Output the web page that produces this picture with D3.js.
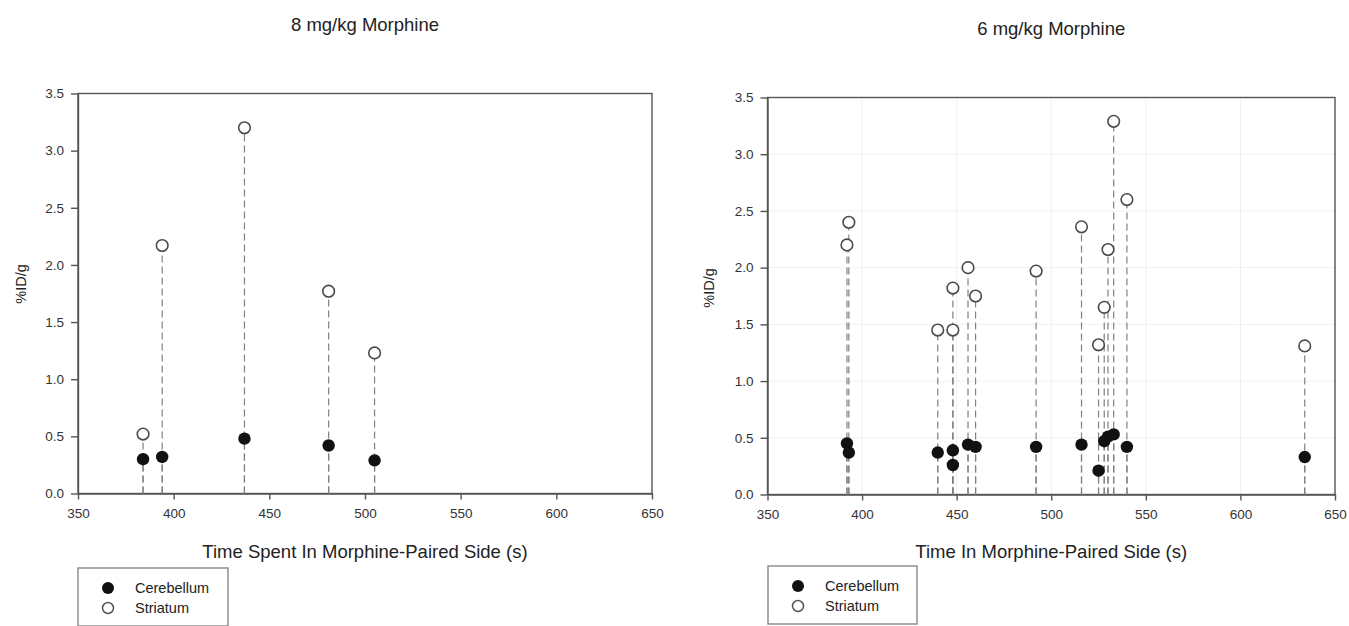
<!DOCTYPE html>
<html>
  <head>
    <meta charset="UTF-8">
    <title>Morphine %ID/g</title>
    <style>
      body { margin: 0; background: #fff; font-family: "Liberation Sans", Arial, sans-serif; }
      svg text { fill: #222; }
      .axis path, .axis line { stroke: #555; stroke-width: 1.4px; }
      .axis text { font-size: 13.5px; fill: #333; }
      .grid line { stroke: #f0f0f0; stroke-width: 1px; }
      .drop { stroke: #808080; stroke-width: 1.2px; stroke-dasharray: 7,4; }
    </style>
    <script src="https://d3js.org/d3.v7.min.js"></script>
  </head>
  <body>
    <div id="chart"></div>
    <script>
      // 8 mg/kg panel
      var leftTime = [384, 394, 437, 481, 505];
      var leftCerebellum = [0.30, 0.32, 0.48, 0.42, 0.29];
      var leftStriatum = [0.52, 2.17, 3.20, 1.77, 1.23];

      // 6 mg/kg panel
      var rightTime = [392, 393, 440, 448, 448, 456, 460, 492, 516, 525, 528, 530, 533, 540, 634];
      var rightCerebellum = [0.45, 0.37, 0.37, 0.39, 0.26, 0.44, 0.42, 0.42, 0.44, 0.21, 0.47, 0.51, 0.53, 0.42, 0.33];
      var rightStriatum = [2.20, 2.40, 1.45, 1.45, 1.82, 2.00, 1.75, 1.97, 2.36, 1.32, 1.65, 2.16, 3.29, 2.60, 1.31];

      var xTicks = [350, 400, 450, 500, 550, 600, 650];
      var yTicks = [0, 0.5, 1.0, 1.5, 2.0, 2.5, 3.0, 3.5];
      var seriesNames = ["Cerebellum", "Striatum"];

      var svg = d3.select("#chart").append("svg")
        .attr("width", 1349)
        .attr("height", 626);

      function panel(opt) {
        var x = d3.scaleLinear().domain([350, 650]).range([opt.left, opt.right]);
        var y = d3.scaleLinear().domain([0, 3.5]).range([opt.bottom, opt.top]);
        var g = svg.append("g");

        if (opt.grid) {
          var grid = g.append("g").attr("class", "grid");
          grid.selectAll(".gx").data(xTicks.slice(1, -1)).enter().append("line")
            .attr("x1", x).attr("x2", x).attr("y1", opt.top).attr("y2", opt.bottom);
          grid.selectAll(".gy").data(yTicks.slice(1, -1)).enter().append("line")
            .attr("y1", y).attr("y2", y).attr("x1", opt.left).attr("x2", opt.right);
        }

        // frame
        g.append("rect")
          .attr("x", opt.left).attr("y", opt.top)
          .attr("width", opt.right - opt.left).attr("height", opt.bottom - opt.top)
          .attr("fill", "none").attr("stroke", "#555").attr("stroke-width", 1.4);

        g.append("g").attr("class", "axis")
          .attr("transform", "translate(0," + opt.bottom + ")")
          .call(d3.axisBottom(x).tickValues(xTicks).tickSize(6).tickPadding(9).tickSizeOuter(0));
        g.append("g").attr("class", "axis")
          .attr("transform", "translate(" + opt.left + ",0)")
          .call(d3.axisLeft(y).tickValues(yTicks).tickFormat(d3.format(".1f")).tickSize(7).tickPadding(7).tickSizeOuter(0));

        var pts = opt.time.map(function(t, i) {
          return {t: t, c: opt.cer[i], s: opt.str[i]};
        });

        // drop lines for both series
        g.selectAll(".dropS").data(pts).enter().append("line")
          .attr("class", "drop")
          .attr("x1", function(d) { return x(d.t); })
          .attr("x2", function(d) { return x(d.t); })
          .attr("y1", y(0))
          .attr("y2", function(d) { return y(d.s); });
        g.selectAll(".dropC").data(pts).enter().append("line")
          .attr("class", "drop")
          .attr("x1", function(d) { return x(d.t); })
          .attr("x2", function(d) { return x(d.t); })
          .attr("y1", y(0))
          .attr("y2", function(d) { return y(d.c); });

        g.selectAll(".str").data(pts).enter().append("circle")
          .attr("cx", function(d) { return x(d.t); })
          .attr("cy", function(d) { return y(d.s); })
          .attr("r", 5.8)
          .attr("fill", "#fff").attr("stroke", "#4a4a4a").attr("stroke-width", 1.6);
        g.selectAll(".cer").data(pts).enter().append("circle")
          .attr("cx", function(d) { return x(d.t); })
          .attr("cy", function(d) { return y(d.c); })
          .attr("r", 6.2)
          .attr("fill", "#111");

        var cx = (opt.left + opt.right) / 2;
        g.append("text")
          .attr("x", cx).attr("y", opt.titleY)
          .attr("text-anchor", "middle")
          .style("font-size", "18.5px")
          .text(opt.title);
        g.append("text")
          .attr("x", cx).attr("y", 558)
          .attr("text-anchor", "middle")
          .style("font-size", "18.5px")
          .text(opt.xLabel);
        g.append("text")
          .attr("transform", "translate(" + opt.yLabelX + "," + opt.yLabelY + ") rotate(-90)")
          .attr("text-anchor", "middle")
          .style("font-size", "14.5px")
          .text("%ID/g");

        // legend
        var lg = g.append("g").attr("transform", "translate(" + opt.legX + "," + opt.legY + ")");
        lg.append("rect")
          .attr("width", opt.legW).attr("height", 58)
          .attr("fill", "#fff").attr("stroke", "#888").attr("stroke-width", 1.4);
        seriesNames.forEach(function(name, i) {
          lg.append("circle")
            .attr("cx", 30).attr("cy", 20 + i * 20)
            .attr("r", i === 0 ? 6 : 5.5)
            .attr("fill", i === 0 ? "#111" : "#fff")
            .attr("stroke", i === 0 ? "none" : "#555")
            .attr("stroke-width", 1.5);
          lg.append("text")
            .attr("x", 57).attr("y", 25 + i * 20)
            .style("font-size", "14.5px")
            .text(name);
        });
      }

      panel({
        left: 78, right: 652, top: 93.5, bottom: 493.5,
        time: leftTime, cer: leftCerebellum, str: leftStriatum,
        title: "8 mg/kg Morphine", titleY: 31,
        xLabel: "Time Spent In Morphine-Paired Side (s)",
        yLabelX: 26, yLabelY: 284,
        legX: 78, legY: 568, legW: 150, grid: false
      });

      panel({
        left: 767.5, right: 1335, top: 97.5, bottom: 494.5,
        time: rightTime, cer: rightCerebellum, str: rightStriatum,
        title: "6 mg/kg Morphine", titleY: 35,
        xLabel: "Time In Morphine-Paired Side (s)",
        yLabelX: 714, yLabelY: 288,
        legX: 768, legY: 566, legW: 149, grid: true
      });
    </script>
  </body>
</html>
